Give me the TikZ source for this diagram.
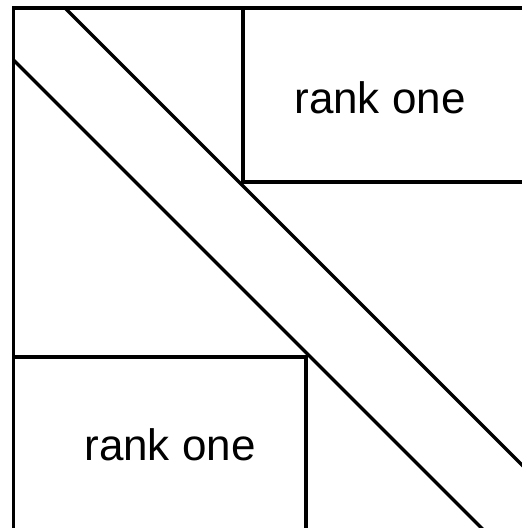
\documentclass[tikz,border=0pt]{standalone}
\usepackage{fontspec}
\setmainfont{Liberation Sans}
\begin{document}
\begin{tikzpicture}[x=1pt,y=-1pt,
  edge/.style={line width=3.2pt,line cap=rect},
  diag/.style={line width=3.2pt,line cap=butt},
  lbl/.style={anchor=base,inner sep=0pt,font=\fontsize{44}{52}\selectfont}]
\useasboundingbox (0,0) rectangle (522,528);
\begin{scope}
\clip (0,0) rectangle (522,528);
\coordinate (tl) at (13.5,8);
\coordinate (tr) at (530,8);
\coordinate (bl) at (13.5,540);
\coordinate (d1a) at (65,8);
\coordinate (d1b) at (600,543);
\coordinate (d2a) at (13.5,60);
\coordinate (d2b) at (500,546.5);
\coordinate (ua) at (243,8);
\coordinate (uc) at (243,182);
\coordinate (ub) at (530,182);
\coordinate (la) at (13.5,357);
\coordinate (lc) at (306,357);
\coordinate (lb) at (306,540);
\draw[diag] (d1a) -- (d1b);
\draw[diag] (d2a) -- (d2b);
\draw[edge] (bl) -- (tl) -- (tr);
\draw[edge] (ua) -- (uc) -- (ub);
\draw[edge] (la) -- (lc) -- (lb);
\end{scope}
\node[lbl] (r1) at (380,113) {rank one};
\node[lbl] (r2) at (170,460) {rank one};
\end{tikzpicture}
\end{document}
